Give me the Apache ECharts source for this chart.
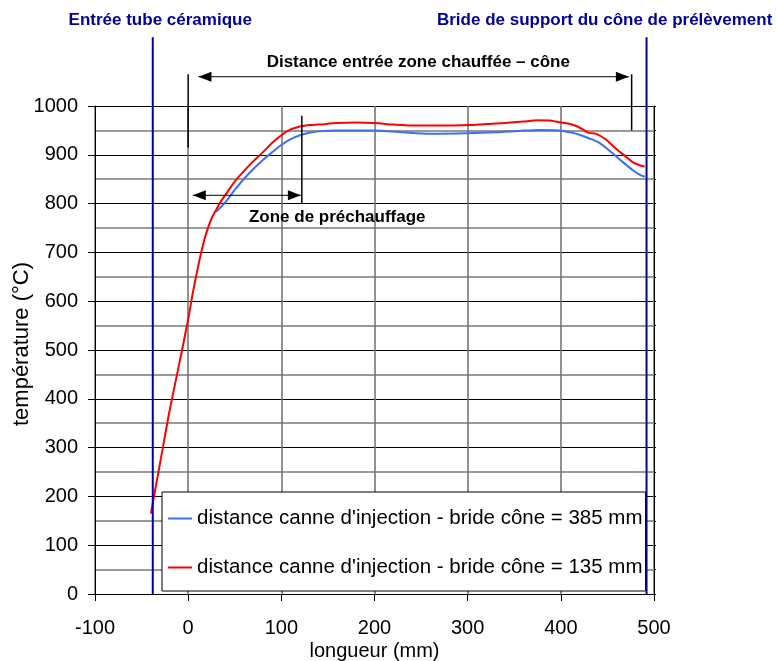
<!DOCTYPE html>
<html>
<head>
<meta charset="utf-8">
<script src="https://cdn.jsdelivr.net/npm/echarts@6/dist/echarts.min.js"></script>
<style>
  html, body { margin: 0; padding: 0; background: #fff; }
  #chart { width: 776px; height: 661px; }
</style>
</head>
<body>
<div id="chart"></div>
<script>
// Temperature profiles along the furnace (position in mm, temperature in °C)
const seriesNames = [
  "distance canne d'injection - bride cône = 385 mm",
  "distance canne d'injection - bride cône = 135 mm"
];

const profile385 = [
  [30, 783], [40, 803], [50, 828], [60, 851], [70, 871], [80, 889], [90, 905],
  [100, 920], [110, 932], [120, 940], [130, 945], [140, 948], [160, 950],
  [200, 950], [230, 946], [260, 943], [300, 944], [330, 946], [355, 949],
  [377, 951], [398, 950], [410, 946], [420, 941], [430, 934], [441, 925],
  [455, 904], [466, 886], [477, 869], [484, 860], [490, 855]
];

const profile135 = [
  [-40, 165], [-30, 270], [-20, 375], [-10, 468], [0, 563], [5, 617], [10, 665],
  [15, 708], [20, 743], [25, 769], [30, 787], [35, 804], [40, 818], [50, 845],
  [60, 867], [70, 887], [80, 905], [90, 924], [100, 940], [110, 952], [120, 958],
  [130, 961], [140, 962], [160, 965], [180, 966], [200, 965], [220, 962],
  [240, 960], [260, 960], [280, 960], [300, 961], [320, 963], [340, 965],
  [360, 968], [375, 971], [390, 970], [400, 966], [410, 963], [420, 956],
  [430, 945], [438, 943], [448, 932], [459, 913], [470, 896], [477, 885],
  [484, 879], [490, 876]
];

// Axis ranges and tick spacing
const xRange = [-100, 500];
const xStep = 100;
const yRange = [0, 1000];
const yStep = 100;

// Reference positions drawn over the plot (mm / °C)
const tubeLimits = [-38, 492];          // ceramic tube inlet, cone support flange
const tubeLimitTop = 1141;
const tubeLabels = ["Entrée tube céramique", "Bride de support du cône de prélèvement"];
const tubeLabelPos = [[-30, 1176], [447, 1176]];

const heatedZone = [0, 476];            // heated zone entrance -> cone
const heatedZoneTickTop = 1065;
const heatedZoneTickBottom = [915, 950];
const heatedArrow = { from: 11, to: 473, y: 1060 };
const heatedLabel = { text: "Distance entrée zone chauffée – cône", x: 247, y: 1090 };

const preheatEnd = 122;
const preheatTick = [980, 800];
const preheatArrow = { from: 5, to: 121, y: 817 };
const preheatLabel = { text: "Zone de préchauffage", x: 160, y: 772 };

const FONT = "'Liberation Sans', Arial, Helvetica, sans-serif";

const chart = echarts.init(document.getElementById('chart'), null, { renderer: 'canvas' });

chart.setOption({
  animation: false,
  backgroundColor: '#fff',
  grid: { left: 95, right: 122, top: 106, bottom: 67, containLabel: false, outerBoundsMode: 'none' },
  legend: {
    orient: 'vertical',
    left: 162,
    top: 492,
    padding: [16, 3, 13, 6],
    itemGap: 28,
    itemWidth: 24,
    itemHeight: 2,
    icon: 'rect',
    backgroundColor: '#fff',
    borderColor: '#000',
    borderWidth: 1,
    borderRadius: 0,
    textStyle: { fontFamily: FONT, fontSize: 20.5, color: '#000' },
    data: seriesNames
  },
  xAxis: {
    type: 'value',
    min: xRange[0],
    max: xRange[1],
    interval: xStep,
    name: 'longueur (mm)',
    nameLocation: 'middle',
    nameGap: 47,
    nameMoveOverlap: false,
    nameTextStyle: { fontFamily: FONT, fontSize: 20, color: '#000' },
    axisLine: { show: true, onZero: false, lineStyle: { color: '#000', width: 1 } },
    axisTick: { show: true, length: 7, lineStyle: { color: '#000' } },
    axisLabel: { fontFamily: FONT, fontSize: 20, color: '#000', margin: 24, formatter: function (v) { return String(v); } },
    splitLine: { show: true, lineStyle: { color: '#6e6e6e', width: 1.5 } }
  },
  yAxis: [{
    type: 'value',
    min: yRange[0],
    max: yRange[1],
    interval: yStep,
    name: 'température (°C)',
    nameLocation: 'middle',
    nameGap: 62,
    nameRotate: 90,
    nameMoveOverlap: false,
    nameTextStyle: { fontFamily: FONT, fontSize: 22, color: '#000', padding: [0, 0, 0, 12] },
    axisLine: { show: true, onZero: false, lineStyle: { color: '#000', width: 1 } },
    axisTick: { show: true, length: 7, lineStyle: { color: '#000' } },
    axisLabel: { fontFamily: FONT, fontSize: 20, color: '#000', margin: 17, formatter: function (v) { return String(v); } },
    splitLine: { show: true, lineStyle: { color: '#000', width: 1 } },
    minorTick: { show: false, splitNumber: 2 },
    minorSplitLine: { show: true, lineStyle: { color: '#7a7a7a', width: 1.5 } }
  }, {
    type: 'value',
    position: 'right',
    min: yRange[0],
    max: yRange[1],
    interval: yStep / 2,
    axisLine: { show: true, onZero: false, lineStyle: { color: '#000', width: 1 } },
    axisTick: { show: true, length: 2, lineStyle: { color: '#000' } },
    axisLabel: { show: false },
    splitLine: { show: false }
  }],
  series: [{
    name: seriesNames[0],
    type: 'line',
    data: profile385,
    symbol: 'none',
    smooth: 0.3,
    z: 3,
    lineStyle: { color: '#3b6ff5', width: 2 },
    itemStyle: { color: '#3b6ff5' }
  }, {
    name: seriesNames[1],
    type: 'line',
    data: profile135,
    symbol: 'none',
    smooth: 0.3,
    z: 4,
    lineStyle: { color: '#ff0000', width: 2 },
    itemStyle: { color: '#ff0000' }
  }]
});

// Overlay: reference lines, dimension arrows and their captions,
// positioned through the grid's own data -> pixel conversion.
function px(x, y) {
  return chart.convertToPixel({ gridIndex: 0 }, [x, y]);
}

function arrowHead(tip, dir) {
  const len = 13, half = 5;
  return {
    type: 'polygon',
    shape: { points: [[tip[0], tip[1]], [tip[0] - dir * len, tip[1] - half], [tip[0] - dir * len, tip[1] + half]] },
    style: { fill: '#000' },
    z: 20
  };
}

function dimension(arrow) {
  const a = px(arrow.from, arrow.y), b = px(arrow.to, arrow.y);
  return [
    { type: 'line', shape: { x1: a[0], y1: a[1], x2: b[0], y2: b[1] }, style: { stroke: '#000', lineWidth: 1 }, z: 20 },
    arrowHead(a, -1),
    arrowHead(b, 1)
  ];
}

function vline(x, y1, y2, color, width) {
  const a = px(x, y1), b = px(x, y2);
  return { type: 'line', shape: { x1: a[0], y1: a[1], x2: b[0], y2: b[1] }, style: { stroke: color, lineWidth: width }, z: 20 };
}

function caption(text, x, y, color) {
  const p = px(x, y);
  return {
    type: 'text', x: p[0], y: p[1], z: 21,
    style: { text: text, fill: color, font: 'bold 17px ' + FONT, align: 'center', verticalAlign: 'middle' }
  };
}

const overlay = [];
tubeLimits.forEach(function (x, i) {
  overlay.push(vline(x, tubeLimitTop, yRange[0], '#0000a0', 2));
  overlay.push(caption(tubeLabels[i], tubeLabelPos[i][0], tubeLabelPos[i][1], '#00009a'));
});
heatedZone.forEach(function (x, i) {
  overlay.push(vline(x, heatedZoneTickTop, heatedZoneTickBottom[i], '#000', 1.5));
});
dimension(heatedArrow).forEach(function (g) { overlay.push(g); });
overlay.push(caption(heatedLabel.text, heatedLabel.x, heatedLabel.y, '#000'));
overlay.push(vline(preheatEnd, preheatTick[0], preheatTick[1], '#000', 1.5));
dimension(preheatArrow).forEach(function (g) { overlay.push(g); });
overlay.push(caption(preheatLabel.text, preheatLabel.x, preheatLabel.y, '#000'));

chart.setOption({ graphic: overlay });
</script>
</body>
</html>
